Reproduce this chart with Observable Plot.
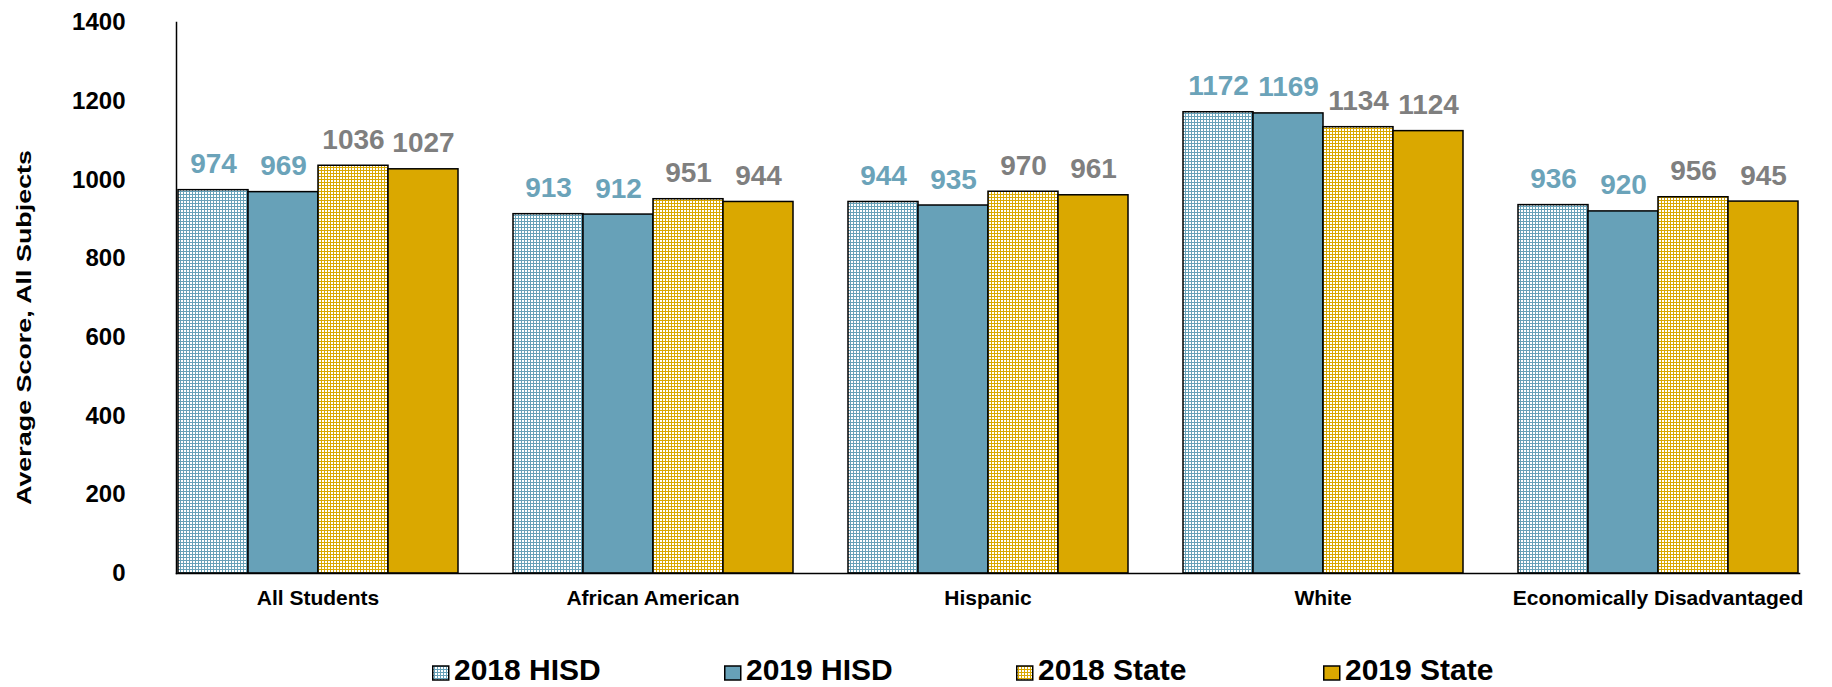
<!DOCTYPE html>
<html><head><meta charset="utf-8">
<script src="https://cdn.jsdelivr.net/npm/d3@7"></script>
<script src="https://cdn.jsdelivr.net/npm/@observablehq/plot@0.6"></script>
<style>
body{margin:0;background:#fff;}
#chart svg{display:block}
</style>
</head><body>
<svg width="0" height="0" style="position:absolute">
<defs>
<pattern id="chkTeal" width="3" height="3" patternUnits="userSpaceOnUse">
<rect width="3" height="3" fill="#67a1b8"/><rect width="2" height="2" fill="#fff"/>
</pattern>
<pattern id="chkGold" width="3" height="3" patternUnits="userSpaceOnUse">
<rect width="3" height="3" fill="#daa800"/><rect width="2" height="2" fill="#fff"/>
</pattern>
</defs></svg>
<div id="chart"></div>
<script>
const categories = ["All Students", "African American", "Hispanic", "White", "Economically Disadvantaged"];
const series = ["2018 HISD", "2019 HISD", "2018 State", "2019 State"];
const hisd2018 = [974, 913, 944, 1172, 936];
const hisd2019 = [969, 912, 935, 1169, 920];
const state2018 = [1036, 951, 970, 1134, 956];
const state2019 = [1027, 944, 961, 1124, 945];
const yTicks = [0, 200, 400, 600, 800, 1000, 1200, 1400];
const yTitle = "Average Score, All Subjects";

const seriesValues = [hisd2018, hisd2019, state2018, state2019];
const fills = ["url(#chkTeal)", "#67a1b8", "url(#chkGold)", "#daa800"];
const labelColors = ["#6ba3b9", "#6ba3b9", "#7f7f7f", "#7f7f7f"];

const data = categories.flatMap((c, i) => series.map((s, j) => ({category: c, series: s, value: seriesValues[j][i]})));

const W = 1832, H = 640;
const marks = [];
series.forEach((s, j) => {
  const sub = data.filter(d => d.series === s);
  marks.push(Plot.barY(sub, {fx: "category", x: "series", y: "value", fill: fills[j], stroke: "black", strokeWidth: 1.5}));
  marks.push(Plot.text(sub, {fx: "category", x: "series", y: "value", text: d => String(d.value), lineAnchor: "bottom", dy: -17, fill: labelColors[j], fontSize: 28, fontWeight: "bold"}));
});
marks.push(Plot.frame({anchor: "bottom", facet: "super", stroke: "black", strokeWidth: 1.5}));
marks.push(Plot.frame({anchor: "left", facet: "super", stroke: "black", strokeWidth: 1.5}));
marks.push(Plot.axisY({ticks: yTicks, tickSize: 0, tickPadding: 51, fontSize: 24, label: null, tickFormat: d => String(d)}));
marks.push(Plot.axisFx({anchor: "bottom", tickSize: 0, tickPadding: 17, fontSize: 21, label: null}));

const chart = Plot.plot({
  width: W, height: H,
  marginLeft: 148, marginRight: 5, marginTop: 22, marginBottom: 67,
  style: {fontFamily: "'Liberation Sans', Arial, sans-serif", fontWeight: "bold", color: "black", background: "white"},
  fx: {domain: categories, paddingInner: 0.155, paddingOuter: 0.0775},
  x: {domain: series, padding: 0, axis: null},
  y: {domain: [0, 1400]},
  marks
});
document.getElementById("chart").appendChild(chart);

d3.select(chart).append("text")
  .attr("transform", "translate(31,327.5) rotate(-90)")
  .attr("text-anchor", "middle")
  .attr("font-size", 20)
  .attr("font-weight", "bold")
  .attr("fill", "black")
  .attr("textLength", 355)
  .attr("lengthAdjust", "spacingAndGlyphs")
  .text(yTitle);

// legend below
const legendX = [432, 724, 1016, 1323];
const leg = d3.select("#chart").append("svg")
  .attr("width", W).attr("height", 47)
  .style("display", "block")
  .style("font-family", "'Liberation Sans', Arial, sans-serif")
  .style("font-weight", "bold");
series.forEach((s, j) => {
  const g = leg.append("g").attr("transform", `translate(${legendX[j]},0)`);
  g.append("rect").attr("x", 0.75).attr("y", 26).attr("width", 16).attr("height", 14)
    .attr("fill", fills[j]).attr("stroke", "black").attr("stroke-width", 1.5);
  g.append("text").attr("x", 22).attr("y", 40).attr("font-size", 30).attr("fill", "black").text(s);
});
</script>
</body></html>
